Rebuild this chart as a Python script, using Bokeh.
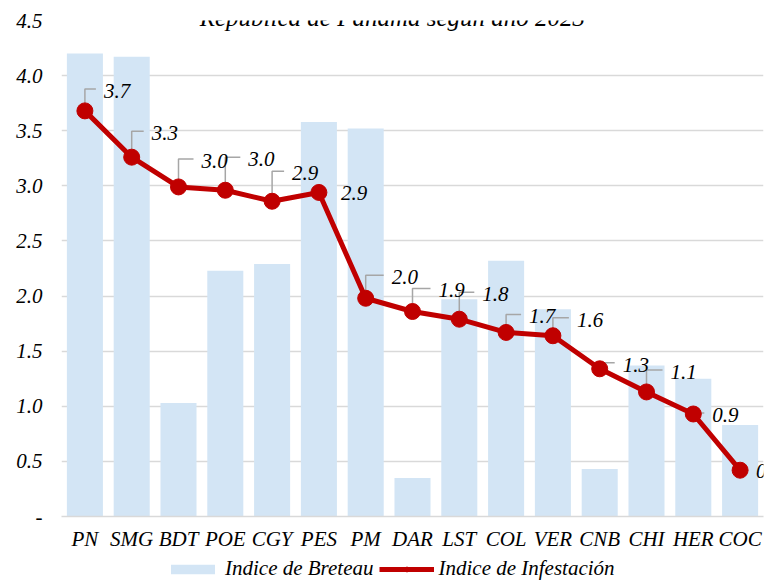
from bokeh.plotting import figure
from bokeh.layouts import column
from bokeh.models import (Range1d, FixedTicker, Label, LabelSet, ColumnDataSource,
                          Legend, LegendItem)
from bokeh.core.properties import value
from bokeh.embed import file_html
from bokeh.resources import INLINE

# ---- data ----
categories = ["PN", "SMG", "BDT", "POE", "CGY", "PES", "PM", "DAR", "LST",
              "COL", "VER", "CNB", "CHI", "HER", "COC"]
breteau = [4.20, 4.17, 1.03, 2.23, 2.29, 3.58, 3.52, 0.35, 1.97, 2.32, 1.88, 0.43, 1.37, 1.25, 0.83]
infestacion = [3.68, 3.26, 2.99, 2.96, 2.86, 2.94, 1.98, 1.86, 1.79, 1.67, 1.64, 1.34, 1.13, 0.93, 0.42]
y_ticks = [0, 0.5, 1.0, 1.5, 2.0, 2.5, 3.0, 3.5, 4.0, 4.5]
y_tick_labels = ["-", "0.5", "1.0", "1.5", "2.0", "2.5", "3.0", "3.5", "4.0", "4.5"]
title_text = "República de Panamá según año 2023"
legend_labels = ["Indice de Breteau", "Indice de Infestación"]

# ---- label placement (screen pixel offsets from each point; negative = up) ----
lab_dx = [19, 20, 23, 23, 20, 22, 26, 26, 23, 23, 24, 23, 24, 19, 16]
lab_dy = [-20, -24, -26, -31, -28, 1, -21, -21, -25, -16, -16, -4, -20, 1, 1]
has_leader = [1, 1, 1, 1, 1, 0, 1, 1, 1, 1, 1, 1, 1, 1, 0]

FW, FH = 702, 496
y_max = 4.5
n = len(categories)
px_x = FW / n
px_y = FH / y_max
FONT = "Liberation Serif"
FS = "21px"
BAR_COLOR = "#d3e5f5"
LINE_COLOR = "#c00000"

xs_idx = list(range(n))

p = figure(frame_width=FW, frame_height=FH, output_backend="svg", toolbar_location=None,
           x_range=Range1d(-0.5, n - 0.5), y_range=Range1d(0, y_max),
           min_border_left=61, min_border_right=18, min_border_top=20, min_border_bottom=0)
p.outline_line_color = None
p.background_fill_color = "white"

p.vbar(x=xs_idx, top=breteau, width=0.77, fill_color=BAR_COLOR, line_color=None)

# leader lines
lx, ly = [], []
for i in range(n):
    if not has_leader[i]:
        continue
    x0, y0 = xs_idx[i], infestacion[i]
    cy = y0 - (lab_dy[i] - 2) / px_y
    ex = x0 + (lab_dx[i] - 8) / px_x
    lx.append([x0, x0, ex])
    ly.append([y0, cy, cy])
p.multi_line(xs=lx, ys=ly, line_color="#a6a6a6", line_width=1.5)

p.line(xs_idx, infestacion, line_color=LINE_COLOR, line_width=5)
p.scatter(xs_idx, infestacion, size=16, fill_color=LINE_COLOR, line_color=LINE_COLOR)

src = ColumnDataSource(dict(x=xs_idx, y=infestacion,
                            t=["%.1f" % v for v in infestacion],
                            dx=lab_dx, dy=[-d for d in lab_dy]))
p.add_layout(LabelSet(x="x", y="y", text="t", x_offset="dx", y_offset="dy", source=src,
                      text_font=FONT, text_font_style="italic", text_font_size=FS,
                      text_color="black", text_align="left", text_baseline="middle"))

# title (clipped at the top like the reference)
p.add_layout(Label(x=(n - 1) / 2 - 0.43, y=y_max + 3 / px_y, text=title_text,
                   text_font=FONT, text_font_style="italic", text_font_size="25px",
                   text_color="black", text_align="center", text_baseline="alphabetic"))

# axes
p.xaxis.ticker = FixedTicker(ticks=xs_idx)
p.xaxis.major_label_overrides = {i: c for i, c in enumerate(categories)}
p.xaxis.axis_line_color = "#d9d9d9"
p.xaxis.axis_line_width = 1.5
p.xaxis.major_tick_line_color = None
p.xaxis.minor_tick_line_color = None
p.xaxis.major_tick_out = 0
p.xaxis.major_label_standoff = 10
p.xgrid.grid_line_color = None

p.yaxis.ticker = FixedTicker(ticks=y_ticks)
p.yaxis.major_label_overrides = {t: l for t, l in zip(y_ticks, y_tick_labels)}
p.yaxis.axis_line_color = None
p.yaxis.major_tick_line_color = None
p.yaxis.minor_tick_line_color = None
p.yaxis.major_tick_out = 0
p.yaxis.major_label_standoff = 19
p.ygrid.grid_line_color = "#d9d9d9"
p.ygrid.grid_line_width = 1.5

for ax in (p.xaxis, p.yaxis):
    ax.major_label_text_font = FONT
    ax.major_label_text_font_style = "italic"
    ax.major_label_text_font_size = FS
    ax.major_label_text_color = "black"

# ---- legend strip (a small figure holding the legend) ----
leg = figure(width=781, height=28, output_backend="svg", toolbar_location=None,
             x_axis_location=None, y_axis_location=None,
             x_range=Range1d(100, 101), y_range=Range1d(100, 101),
             min_border=0)
leg.outline_line_color = None
leg.xgrid.grid_line_color = None
leg.ygrid.grid_line_color = None
r_bar = leg.vbar(x=xs_idx, top=breteau, width=0.77, fill_color=BAR_COLOR, line_color=None)
r_line = leg.line(xs_idx, infestacion, line_color=LINE_COLOR, line_width=5)
r_pts = leg.scatter(xs_idx, infestacion, size=16, fill_color=LINE_COLOR, line_color=LINE_COLOR)
legend = Legend(items=[LegendItem(label=value(legend_labels[0]), renderers=[r_bar]),
                       LegendItem(label=value(legend_labels[1]), renderers=[r_line, r_pts])],
                orientation="horizontal", location=(104, 0),
                label_text_font=FONT, label_text_font_style="italic",
                label_text_font_size=FS, label_text_color="black",
                glyph_width=55, glyph_height=12, label_standoff=5, spacing=5,
                padding=0, margin=0, border_line_color=None, background_fill_alpha=0,
                label_height=18)
leg.add_layout(legend, "center")

layout = column(p, leg, spacing=0)
open("out.html", "w").write(file_html(layout, INLINE))
